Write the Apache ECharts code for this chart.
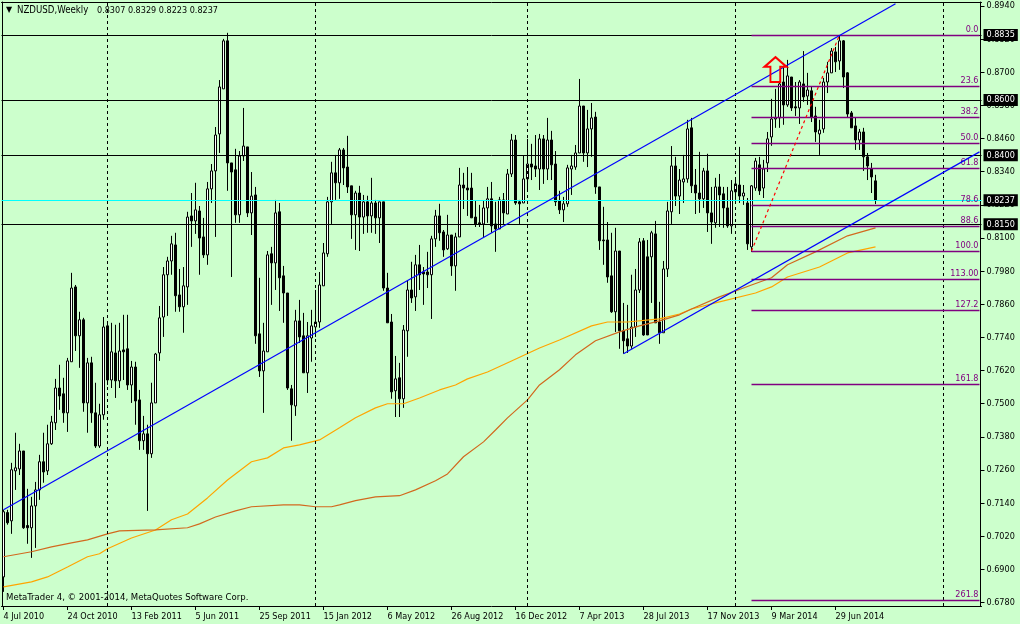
<!DOCTYPE html>
<html>
<head>
<meta charset="utf-8">
<style>html,body{margin:0;padding:0;background:#CCFFCC;}#c{width:1020px;height:624px;}</style>
<script src="https://cdn.jsdelivr.net/npm/echarts@6/dist/echarts.min.js"></script>
</head>
<body>
<div id="c"></div>
<script>
const tickLabels = ['4 Jul 2010','24 Oct 2010','13 Feb 2011','5 Jun 2011','25 Sep 2011','15 Jan 2012','6 May 2012','26 Aug 2012','16 Dec 2012','7 Apr 2013','28 Jul 2013','17 Nov 2013','9 Mar 2014','29 Jun 2014'];
const priceTicks = [0.8940,0.8820,0.8700,0.8580,0.8460,0.8340,0.8220,0.8100,0.7980,0.7860,0.7740,0.7620,0.7500,0.7380,0.7260,0.7140,0.7020,0.6900,0.6780];
const opens = [
.6873,.7106,.7076,.7257,.7264,.7329,.7059,.7051,.7130,.7188,
.7290,.7257,.7355,.7431,.7557,.7536,.7467,.7652,.7923,.7746,
.7804,.7503,.7648,.7467,.7347,.7460,.7782,.7586,.7684,.7583,
.7695,.7699,.7568,.7633,.7514,.7366,.7391,.7319,.7503,.7684,
.7814,.7967,.8017,.8075,.7894,.7851,.7923,.8180,.8162,.8198,
.8104,.8039,.8278,.8343,.8477,.8640,.8814,.8372,.8347,.8184,
.8397,.8430,.8191,.8256,.7753,.7619,.7688,.8043,.8010,.8195,
.7963,.7901,.7554,.7492,.7800,.7746,.7612,.7738,.7778,.7796,
.7927,.8043,.8231,.8336,.8300,.8419,.8357,.8289,.8184,.8263,
.8176,.8231,.8180,.8227,.8173,.8231,.7919,.7796,.7547,.7594,
.7518,.7764,.7912,.7887,.8003,.7977,.7977,.7967,.8097,.8180,
.8122,.8061,.8111,.7999,.8104,.8292,.8281,.8281,.8176,.8155,
.8151,.8209,.8242,.8151,.8133,.8238,.8187,.8332,.8455,.8231,
.8227,.8314,.8368,.8361,.8350,.8459,.8350,.8455,.8368,.8234,
.8202,.8224,.8350,.8357,.8408,.8578,.8408,.8495,.8538,.8285,
.8093,.8093,.7963,.7833,.8053,.7764,.7735,.7709,.7778,.7912,
.8090,.8032,.8032,.8115,.7796,.7757,.7988,.8195,.8361,.8252,
.8303,.8314,.8499,.8292,.8263,.8242,.8343,.8191,.8155,.8285,
.8260,.8209,.8144,.8267,.8292,.8252,.8227,.8068,.8281,.8365,
.8281,.8372,.8466,.8531,.8535,.8665,.8582,.8683,.8575,.8571,
.8658,.8614,.8633,.8542,.8477,.8495,.8665,.8698,.8774,.8741,
.8814,.8698,.8553,.8506,.8455,.8484,.8394,.8350,.8307];
const closes = [
.7109,.7069,.7261,.7268,.7329,.7051,.7051,.7130,.7188,.7290,
.7253,.7355,.7434,.7557,.7528,.7467,.7655,.7919,.7746,.7804,
.7503,.7648,.7467,.7347,.7460,.7778,.7586,.7688,.7583,.7691,
.7688,.7568,.7633,.7510,.7366,.7391,.7319,.7503,.7680,.7811,
.7967,.8017,.8079,.7891,.7851,.7927,.8176,.8162,.8202,.8100,
.8039,.8278,.8343,.8473,.8647,.8814,.8372,.8339,.8184,.8397,
.8433,.8191,.8252,.7746,.7619,.7691,.8039,.8010,.8191,.7956,
.7901,.7557,.7496,.7800,.7742,.7612,.7746,.7782,.7796,.7930,
.8046,.8231,.8336,.8300,.8419,.8354,.8285,.8184,.8263,.8176,
.8231,.8180,.8227,.8173,.8231,.7919,.7793,.7543,.7590,.7518,
.7767,.7912,.7883,.8003,.7967,.7970,.7967,.8097,.8180,.8119,
.8057,.8111,.7999,.8104,.8292,.8281,.8274,.8173,.8151,.8151,
.8209,.8242,.8144,.8133,.8238,.8191,.8332,.8455,.8227,.8224,
.8314,.8368,.8357,.8350,.8459,.8350,.8455,.8365,.8231,.8202,
.8224,.8354,.8361,.8408,.8578,.8408,.8495,.8535,.8285,.8090,
.8090,.7959,.7833,.8053,.7764,.7728,.7709,.7778,.7912,.8086,
.7749,.7749,.8119,.7793,.7757,.7988,.8198,.8361,.8252,.8310,
.8314,.8495,.8289,.8263,.8242,.8343,.8191,.8158,.8285,.8256,
.8209,.8144,.8271,.8296,.8252,.8263,.8079,.8289,.8379,.8271,
.8350,.8459,.8531,.8535,.8658,.8582,.8687,.8571,.8571,.8665,
.8611,.8636,.8538,.8484,.8491,.8665,.8698,.8777,.8738,.8814,
.8683,.8549,.8499,.8455,.8484,.8394,.8361,.8321,.8237];
const lows = [
.6819,.7062,.7029,.7188,.7242,.7047,.6993,.6942,.6978,.7152,
.7214,.7242,.7351,.7405,.7478,.7431,.7398,.7652,.7691,.7630,
.7471,.7395,.7431,.7340,.7340,.7442,.7568,.7557,.7521,.7557,
.7586,.7550,.7503,.7424,.7333,.7333,.7112,.7304,.7503,.7655,
.7742,.7818,.7967,.7833,.7833,.7757,.7858,.8068,.8115,.7967,
.8028,.8003,.8227,.8104,.8408,.8640,.8271,.7959,.8155,.8155,
.8379,.8176,.8111,.7717,.7597,.7467,.7688,.7858,.7912,.7836,
.7793,.7550,.7366,.7456,.7720,.7612,.7539,.7652,.7742,.7775,
.7927,.8032,.8151,.8238,.8242,.8292,.8263,.8097,.8057,.8053,
.8115,.8119,.8119,.8115,.8082,.7909,.7793,.7518,.7452,.7452,
.7485,.7670,.7865,.7836,.7912,.7858,.7919,.7807,.8068,.8090,
.8032,.8057,.7963,.7909,.8104,.8205,.8180,.8173,.8140,.8140,
.8104,.8155,.8119,.8050,.8133,.8151,.8187,.8321,.8220,.8151,
.8227,.8274,.8310,.8321,.8274,.8296,.8310,.8310,.8216,.8187,
.8158,.8213,.8256,.8347,.8408,.8376,.8357,.8394,.8260,.8057,
.8003,.7938,.7829,.7760,.7699,.7681,.7684,.7699,.7742,.7901,
.7746,.7749,.7865,.7793,.7717,.7757,.7959,.8151,.8216,.8187,
.8227,.8300,.8263,.8187,.8191,.8209,.8122,.8079,.8137,.8140,
.8137,.8137,.8115,.8238,.8227,.8220,.8057,.8050,.8271,.8256,
.8245,.8339,.8434,.8499,.8499,.8510,.8575,.8560,.8542,.8513,
.8593,.8582,.8520,.8448,.8401,.8481,.8625,.8698,.8701,.8709,
.8643,.8538,.8499,.8419,.8419,.8343,.8310,.8263,.8223];
const highs = [
.7116,.7116,.7286,.7395,.7355,.7329,.7192,.7163,.7217,.7315,
.7395,.7424,.7456,.7590,.7641,.7594,.7666,.7974,.7930,.7833,
.7811,.7666,.7670,.7576,.7500,.7814,.7793,.7793,.7786,.7793,
.7822,.7822,.7655,.7652,.7550,.7456,.7424,.7576,.7684,.7854,
.7995,.8032,.8108,.8119,.7988,.7995,.8195,.8263,.8300,.8216,
.8173,.8303,.8368,.8502,.8672,.8821,.8843,.8372,.8423,.8415,
.8571,.8430,.8339,.8285,.7956,.7793,.8053,.8068,.8238,.8227,
.7999,.7901,.7568,.7840,.7876,.7829,.7796,.7840,.7912,.7977,
.8082,.8249,.8376,.8401,.8426,.8426,.8470,.8289,.8271,.8289,
.8256,.8253,.8318,.8238,.8231,.8231,.7974,.7825,.7673,.7648,
.7785,.7948,.8014,.8039,.8075,.7995,.8050,.8108,.8202,.8224,
.8129,.8184,.8111,.8119,.8354,.8336,.8357,.8336,.8234,.8220,
.8234,.8285,.8303,.8231,.8249,.8263,.8350,.8477,.8473,.8238,
.8397,.8459,.8441,.8473,.8477,.8473,.8535,.8488,.8415,.8271,
.8249,.8365,.8401,.8437,.8676,.8578,.8564,.8589,.8557,.8285,
.8213,.8158,.8119,.8137,.8053,.7865,.7858,.7967,.7988,.8100,
.8100,.8093,.8126,.8162,.7869,.8017,.8231,.8433,.8394,.8350,
.8401,.8528,.8535,.8350,.8412,.8354,.8405,.8285,.8318,.8332,
.8285,.8285,.8310,.8314,.8430,.8292,.8245,.8292,.8390,.8394,
.8383,.8484,.8604,.8640,.8665,.8723,.8745,.8683,.8665,.8672,
.8777,.8698,.8647,.8575,.8528,.8680,.8738,.8788,.8792,.8835,
.8817,.8701,.8560,.8535,.8495,.8499,.8408,.8372,.8329];
const barsPerWeekAxis = 245;
const fastMaWeeks = [0,7,11,16,21,24,26,32,38,42,46,51,56,62,66,70,74,79,84,88,93,96,100,104,109,113,116,121,127,134,139,147,151,156,164,169,172,179,188,192,196,204,211,218];
const fastMa = [.6837,.6855,.6873,.6909,.6946,.6957,.6975,.7014,.7043,.7080,.7101,.7159,.7224,.7290,.7304,.7340,.7351,.7369,.7413,.7449,.7485,.7500,.7500,.7521,.7550,.7568,.7590,.7615,.7655,.7702,.7731,.7782,.7796,.7796,.7807,.7825,.7843,.7869,.7901,.7923,.7959,.7995,.8046,.8068];
const slowMaWeeks = [0,7,12,17,21,26,29,38,46,49,53,58,62,70,74,78,82,84,88,93,99,103,108,111,115,120,123,126,131,134,139,143,148,154,159,164,169,172,179,187,192,196,203,211,218];
const slowMa = [.6946,.6964,.6982,.6996,.7007,.7029,.7040,.7043,.7051,.7065,.7090,.7112,.7127,.7134,.7134,.7127,.7127,.7134,.7149,.7163,.7167,.7188,.7221,.7246,.7308,.7362,.7405,.7449,.7514,.7568,.7623,.7677,.7728,.7760,.7782,.7800,.7822,.7843,.7887,.7930,.7956,.8003,.8050,.8108,.8137];
const channelUpper = [[0,.7116],[223,.8948]];
const channelLower = [[155,.7681],[244,.8412]];
const fibSwing = [[187,.8053],[209,.8835]];
const fibLabels = ['0.0','23.6','38.2','50.0','61.8','78.6','88.6','100.0','113.00','127.2','161.8','261.8'];
const fibPrices = [.8835,.8650,.8536,.8444,.8352,.8220,.8142,.8053,.7951,.7840,.7570,.6788];
const levelPrices = [.8835,.8600,.8400,.8150];
const bidPrice = .8237;
const yearLines = [26,78,131,183,235];
const arrowWeek = 193, arrowPrice = .8710;

const MONTHS = ['Jan','Feb','Mar','Apr','May','Jun','Jul','Aug','Sep','Oct','Nov','Dec'];
const categories = [];
for (let i = 0; i < barsPerWeekAxis; i++) {
  const d = new Date(Date.UTC(2010, 6, 4 + 7 * i));
  categories.push(d.getUTCDate() + ' ' + MONTHS[d.getUTCMonth()] + ' ' + d.getUTCFullYear());
}
const FONT = '"DejaVu Sans Condensed","DejaVu Sans"';
const FS = 9;
const yMin = 0.67677, yMax = 0.89546;
const showTick = (idx, val) => tickLabels.includes(val);
const pairs = (w, v) => w.map((x, i) => [categories[x], v[i]]);
const named = a => a.map(p => [categories[p[0]], p[1]]);
const priceBox = (p, txt) => ({
  yAxis: p,
  label: {show: true, position: 'end', distance: 2, formatter: txt, color: '#fff', backgroundColor: '#000',
          fontFamily: FONT, fontSize: FS, padding: [2, 3, 1, 3]}
});
const chart = echarts.init(document.getElementById('c'), null, {renderer: 'canvas'});
chart.setOption({
  animation: false,
  backgroundColor: '#CCFFCC',
  grid: {left: 1.5, top: 2, width: 980, height: 604},
  xAxis: [{
    type: 'category', data: categories, boundaryGap: true, position: 'bottom',
    axisLine: {onZero: false, lineStyle: {color: '#000', width: 1}},
    axisTick: {show: true, length: 4, alignWithLabel: true, interval: showTick, lineStyle: {color: '#000'}},
    axisLabel: {show: true, interval: showTick, align: 'left', margin: 6, color: '#000', fontFamily: FONT, fontSize: FS, hideOverlap: false},
    splitLine: {show: false}
  }, {
    type: 'category', data: categories, position: 'top',
    axisLine: {onZero: false, lineStyle: {color: '#000', width: 1}},
    axisTick: {show: false}, axisLabel: {show: false}, splitLine: {show: false}
  }],
  yAxis: [{
    type: 'value', position: 'right', offset: -1, min: yMin, max: yMax, scale: true,
    axisLine: {show: true, onZero: false, lineStyle: {color: '#000', width: 1}},
    axisTick: {show: true, length: 4, customValues: priceTicks, lineStyle: {color: '#000'}},
    axisLabel: {show: true, customValues: priceTicks, margin: 6, color: '#000', fontFamily: FONT, fontSize: FS,
                formatter: v => v.toFixed(4)},
    splitLine: {show: false}
  }, {
    type: 'value', position: 'left', offset: -1, min: yMin, max: yMax, scale: true,
    axisLine: {show: true, onZero: false, lineStyle: {color: '#000', width: 1}},
    axisTick: {show: false}, axisLabel: {show: false}, splitLine: {show: false}
  }],
  graphic: [
    {type: 'text', left: 6, top: 6, silent: true, style: {text: '▼', fill: '#000', font: '8px "DejaVu Sans"'}},
    {type: 'text', left: 17, top: 5, silent: true, style: {text: 'NZDUSD,Weekly', fill: '#000', font: '9.6px ' + FONT}},
    {type: 'text', left: 97, top: 6, silent: true, style: {text: '0.8307 0.8329 0.8223 0.8237', fill: '#000', font: FS + 'px ' + FONT}},
    {type: 'text', left: 6, top: 593, silent: true, style: {text: 'MetaTrader 4, © 2001-2014, MetaQuotes Software Corp.', fill: '#000', font: '9.5px ' + FONT}}
  ],
  series: [
    {
      type: 'line', name: 'levels', data: [], silent: true, z: 1, symbol: 'none',
      markLine: {
        silent: true, symbol: 'none', animation: false, precision: 4,
        lineStyle: {color: '#000', type: 'solid', width: 1},
        data: [
          ...levelPrices.map(p => ({...priceBox(p, p.toFixed(4))})),
          ...yearLines.map(i => ({xAxis: categories[i], lineStyle: {color: '#000', type: [3, 3], width: 1}, label: {show: false}}))
        ]
      }
    },
    {
      type: 'line', name: 'bid', data: [], silent: true, z: 1, symbol: 'none',
      markLine: {
        silent: true, symbol: 'none', animation: false, precision: 4,
        lineStyle: {color: '#00FFFF', type: 'solid', width: 1},
        data: [priceBox(bidPrice, bidPrice.toFixed(4))]
      }
    },
    {
      type: 'candlestick', name: 'NZDUSD', z: 3, barWidth: 2.5,
      data: opens.map((o, i) => [o, closes[i], lows[i], highs[i]]),
      itemStyle: {color: '#FFFFFF', color0: '#000000', borderColor: '#000000', borderColor0: '#000000', borderWidth: 1},
      markPoint: {
        silent: true, animation: false, z: 6,
        symbol: 'path://M31.5 0 L63 30 L45 30 L45 77 L17 77 L17 30 L0 30 Z',
        symbolSize: [22, 25], symbolKeepAspect: false,
        itemStyle: {color: 'transparent', borderColor: '#FF0000', borderWidth: 2},
        label: {show: false},
        data: [{coord: [categories[arrowWeek], arrowPrice]}]
      }
    },
    {type: 'line', name: 'fast', data: pairs(fastMaWeeks, fastMa), symbol: 'none', silent: true, z: 4, lineStyle: {color: '#FFA500', width: 1.2}},
    {type: 'line', name: 'slow', data: pairs(slowMaWeeks, slowMa), symbol: 'none', silent: true, z: 4, lineStyle: {color: '#D2691E', width: 1.2}},
    {type: 'line', name: 'upper', data: named(channelUpper), symbol: 'none', silent: true, z: 5, lineStyle: {color: '#0000FF', width: 1.2}},
    {type: 'line', name: 'lower', data: named(channelLower), symbol: 'none', silent: true, z: 5, lineStyle: {color: '#0000FF', width: 1.2}},
    {type: 'line', name: 'swing', data: named(fibSwing), symbol: 'none', silent: true, z: 5, lineStyle: {color: '#FF0000', width: 1.2, type: [3, 3]}},
    {
      type: 'line', name: 'fib', data: [], silent: true, z: 5, symbol: 'none',
      markLine: {
        silent: true, symbol: 'none', animation: false, precision: 4,
        lineStyle: {color: '#800080', type: 'solid', width: 1.3},
        label: {show: true, position: 'insideEndTop', distance: 1, color: '#800080', fontFamily: FONT, fontSize: FS, formatter: '{b}'},
        data: fibPrices.map((p, i) => [
          {name: fibLabels[i], coord: [categories[187], p]},
          {coord: [categories[244], p]}
        ])
      }
    }
  ]
});
</script>
</body>
</html>
